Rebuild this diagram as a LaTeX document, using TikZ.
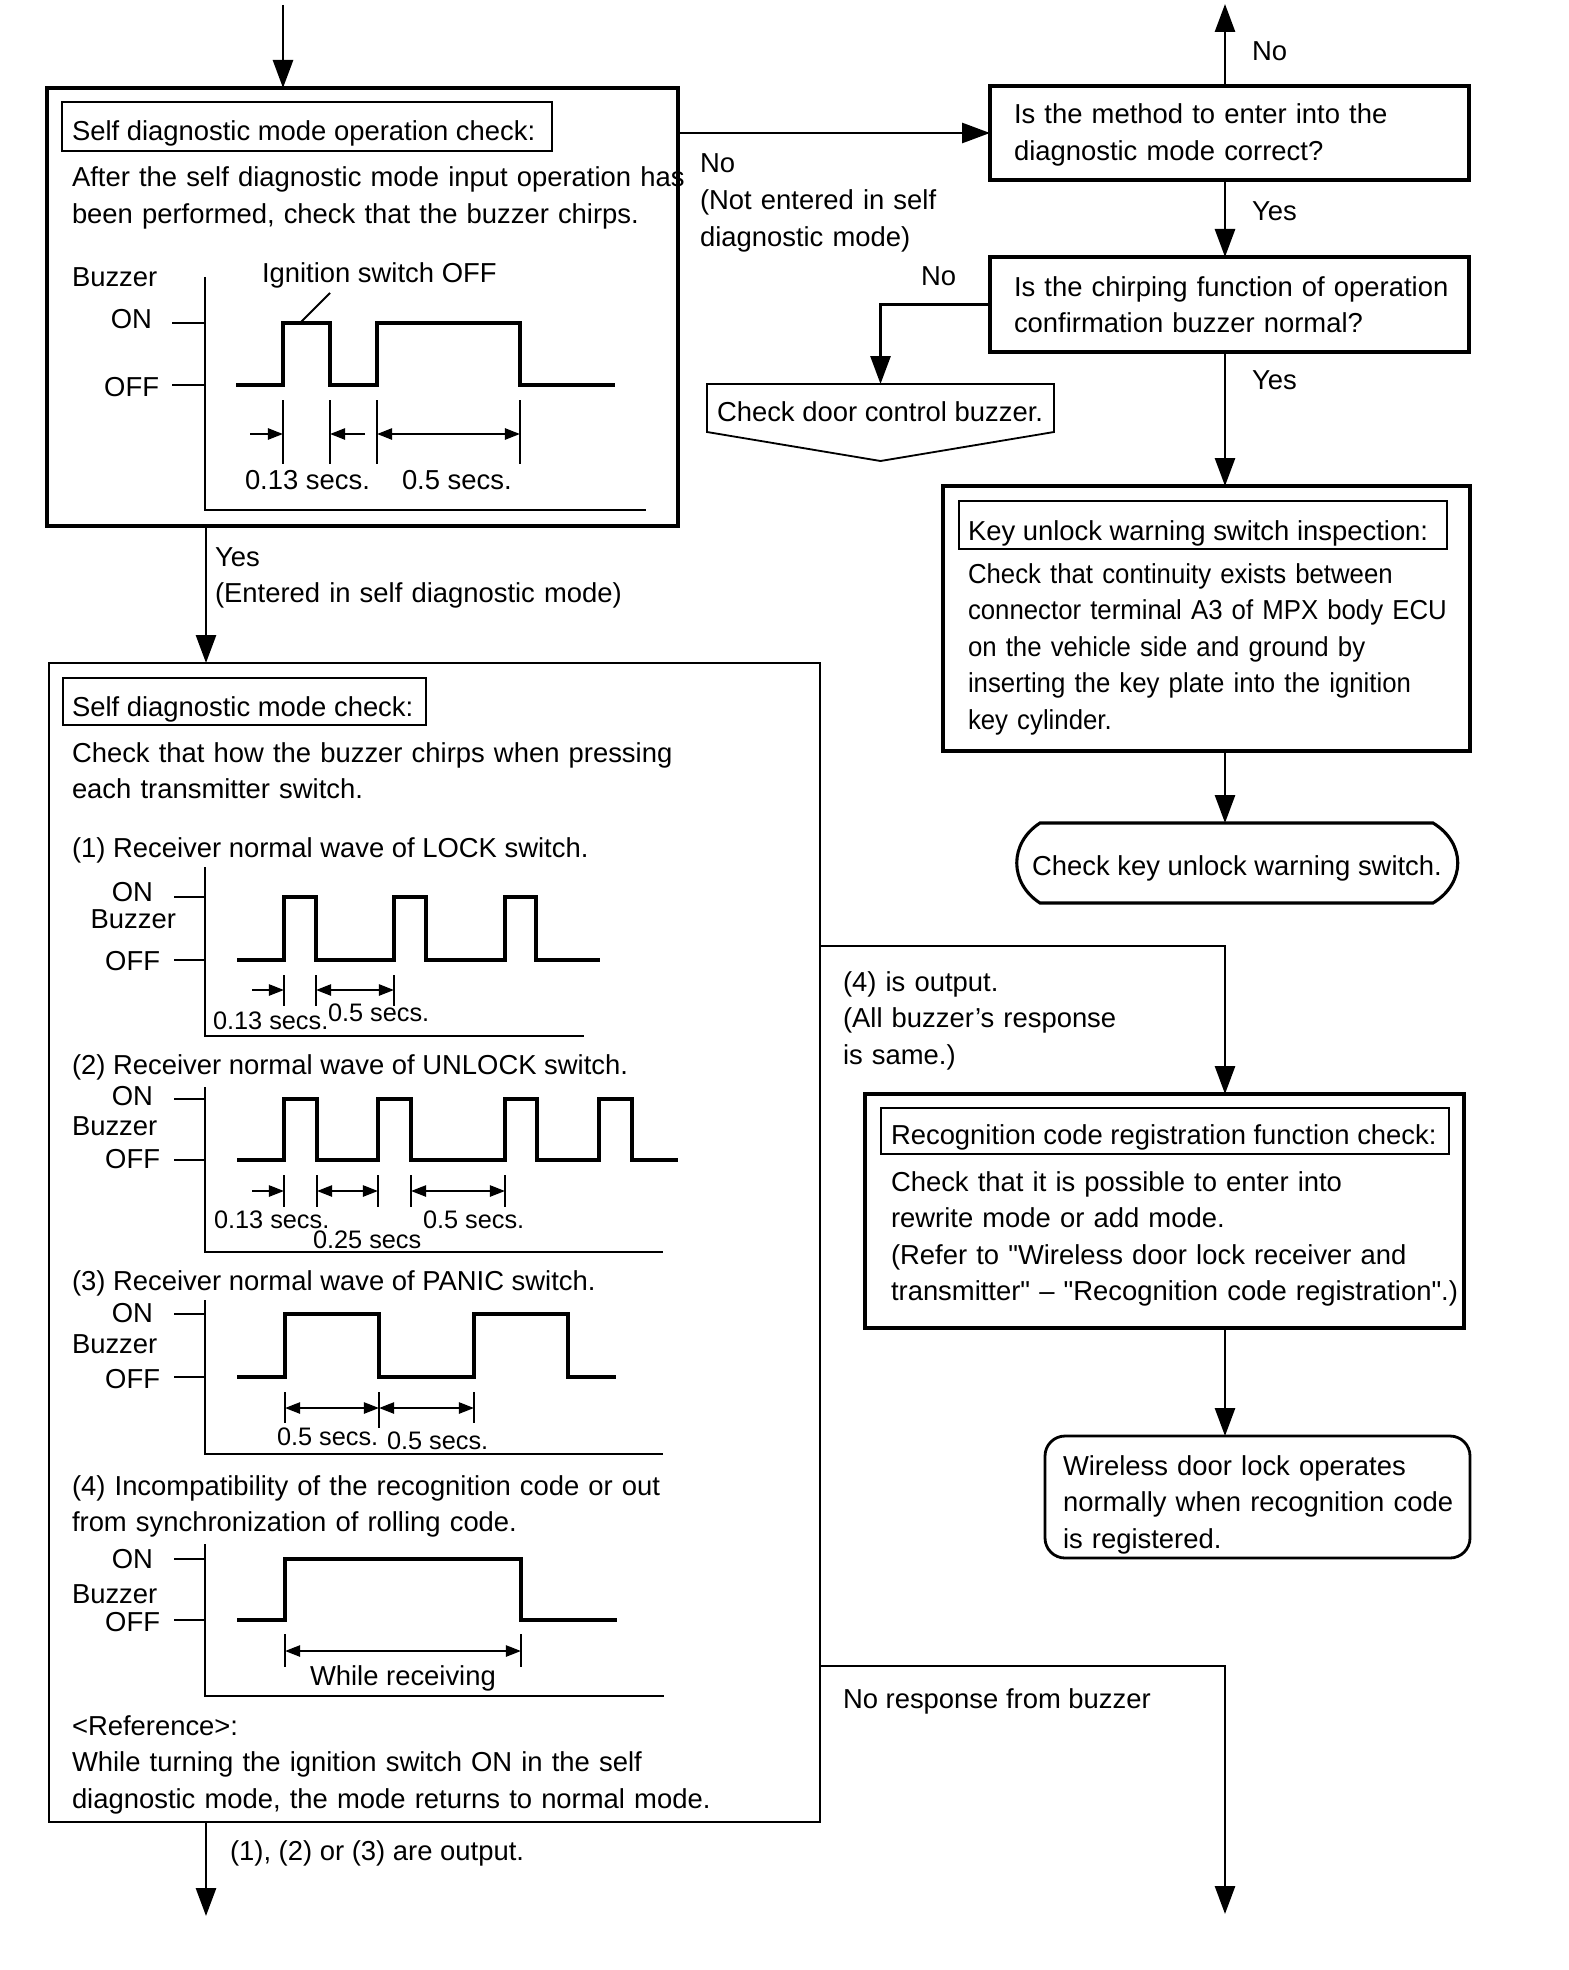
\documentclass[tikz,border=0pt]{standalone}
\usepackage{fontspec}
\setmainfont{Liberation Sans}[Ligatures=TeXOff]
\newfontfamily\condfont{Liberation Sans}[Ligatures=TeXOff,FakeStretch=0.94]
\usetikzlibrary{arrows.meta,fit,calc}
\begin{document}
\begin{tikzpicture}[x=0.25mm,y=-0.25mm,
  every node/.style={inner sep=0pt, outer sep=0pt},
  txt/.style={font=\fontsize{19.5}{26}\selectfont, anchor=base west},
  txtr/.style={font=\fontsize{19.5}{26}\selectfont, anchor=base east},
  sml/.style={font=\fontsize{18}{22}\selectfont, anchor=base west},
  ml/.style={text width=#1, align=left},
  bigbox/.style={draw, line width=2.3pt},
  thinbox/.style={draw, line width=1.3pt},
  conn/.style={line width=2pt, -{Triangle[length=7mm,width=5mm]}},
  wave/.style={line width=2.2pt, line join=miter},
  axis/.style={line width=1.8pt},
  dim/.style={line width=1.6pt},
  dimr/.style={dim, -{Triangle[length=3.8mm,width=2.8mm]}},
  dimb/.style={dim, {Triangle[length=3.8mm,width=2.8mm]}-{Triangle[length=3.8mm,width=2.8mm]}},
]
\useasboundingbox (0,0) rectangle (1568,1970);

% ---------- Box 1 ----------
\node[bigbox, fit={(47,88) (678,526)}] (b1) {};
\node[thinbox, fit={(62,102) (552,151)}] (b1t) {};
\node[txt] (b1tt) at (72,141) {Self diagnostic mode operation check:};
\node[txt, ml=170mm] (b1x) at (72,187) {After the self diagnostic mode input operation has\\been performed, check that the buzzer chirps.};
\node[txt] (g0buz) at (72,287) {Buzzer};
\node[txtr] (g0on) at (152,328) {ON};
\node[txtr] (g0off) at (159,396) {OFF};
\node[txt] (g0ig) at (262,282) {Ignition switch OFF};
\draw[axis] (205,277) -- (205,510) -- (646,510);
\draw[axis] (172,323) -- (205,323) (172,385) -- (205,385);
\draw[line width=1.5pt] (330,293) -- (300,323);
\draw[wave] (236,385) -| (283,323) -| (330,385) -| (377,323) -| (520,385) -- (615,385);
\draw[dim] (283,400) -- (283,464) (330,400) -- (330,464) (377,400) -- (377,464) (520,400) -- (520,464);
\draw[dimr] (250,434) -- (283,434);
\draw[dimr] (365,434) -- (330,434);
\draw[dimb] (377,434) -- (520,434);
\node[txt] (g0l1) at (245,489) {0.13 secs.};
\node[txt] (g0l2) at (402,489) {0.5 secs.};

% ---------- right column ----------
\node[bigbox, fit={(990,86) (1469,180)}] (d1) {};
\node[txt, ml=120mm] (d1x) at (1014,124) {Is the method to enter into the\\diagnostic mode correct?};
\node[bigbox, fit={(990,257) (1469,352)}] (d2) {};
\node[txt, ml=120mm] (d2x) at (1014,296) {Is the chirping function of operation\\confirmation buzzer normal?};

\node[fit={(707,384) (1054,432)}] (cdb) {};
\draw[line width=1.3pt] (cdb.north west) -- (cdb.north east) -- (cdb.south east) -- ($(cdb.south)+(0,29)$) -- (cdb.south west) -- cycle;
\node[txt] (cdbx) at (717,421) {Check door control buzzer.};

\node[bigbox, fit={(943,486) (1470,751)}] (kb) {};
\node[thinbox, fit={(959,501) (1447,549)}] (kbt) {};
\node[txt] (kbtt) at (968,540) {Key unlock warning switch inspection:};
\node[txt, ml=130mm, font=\condfont\fontsize{19.5}{26}\selectfont] (kbx) at (968,583) {Check that continuity exists between\\connector terminal A3 of MPX body ECU\\on the vehicle side and ground by\\inserting the key plate into the ignition\\key cylinder.};

\node[fit={(1040,823) (1433,903)}] (ckw) {};
\draw[line width=2.2pt] (ckw.north west) -- (ckw.north east) .. controls +(33,20) and +(33,-20) .. (ckw.south east) -- (ckw.south west) .. controls +(-31,-20) and +(-31,20) .. (ckw.north west) -- cycle;
\node[txt] (ckwx) at (1032,875) {Check key unlock warning switch.};

\node[bigbox, fit={(865,1094) (1464,1328)}] (rb) {};
\node[thinbox, fit={(881,1108) (1449,1154)}] (rbt) {};
\node[txt] (rbtt) at (891,1144) {Recognition code registration function check:};
\node[txt, ml=150mm] (rbx) at (891,1191) {Check that it is possible to enter into\\rewrite mode or add mode.\\(Refer to "Wireless door lock receiver and\\transmitter" – "Recognition code registration".)};

\node[draw, line width=2pt, rounded corners=5mm, fit={(1045,1436) (1470,1558)}] (wdl) {};
\node[txt, ml=110mm] (wdlx) at (1063,1475) {Wireless door lock operates\\normally when recognition code\\is registered.};

% ---------- Big box ----------
\node[draw, line width=1.3pt, fit={(49,663) (820,1822)}] (bb) {};
\node[thinbox, fit={(63,678) (426,725)}] (bbt) {};
\node[txt] (bbtt) at (72,716) {Self diagnostic mode check:};
\node[txt, ml=190mm] (bbx) at (72,762) {Check that how the buzzer chirps when pressing\\each transmitter switch.};

% (1) LOCK
\node[txt] (h1) at (72,857) {(1) Receiver normal wave of LOCK switch.};
\node[txtr] (g1on) at (153,901) {ON};
\node[txtr] (g1buz) at (176,928) {Buzzer};
\node[txtr] (g1off) at (160,970) {OFF};
\draw[axis] (205,867) -- (205,1036) -- (584,1036);
\draw[axis] (174,897) -- (205,897) (174,960) -- (205,960);
\draw[wave] (237,960) -| (284,897) -| (316,960) -| (394,897) -| (426,960) -| (505,897) -| (536,960) -- (600,960);
\draw[dim] (284,975) -- (284,1006) (316,975) -- (316,1006) (394,975) -- (394,1006);
\draw[dimr] (252,990) -- (284,990);
\draw[dimb] (316,990) -- (394,990);
\node[sml] (g1l1) at (213,1029) {0.13 secs.};
\node[sml] (g1l2) at (328,1021) {0.5 secs.};

% (2) UNLOCK
\node[txt] (h2) at (72,1074) {(2) Receiver normal wave of UNLOCK switch.};
\node[txtr] (g2on) at (153,1105) {ON};
\node[txt] (g2buz) at (72,1135) {Buzzer};
\node[txtr] (g2off) at (160,1168) {OFF};
\draw[axis] (205,1087) -- (205,1252) -- (663,1252);
\draw[axis] (174,1099) -- (205,1099) (174,1160) -- (205,1160);
\draw[wave] (237,1160) -| (284,1099) -| (317,1160) -| (378,1099) -| (411,1160) -| (505,1099) -| (537,1160) -| (599,1099) -| (632,1160) -- (678,1160);
\draw[dim] (284,1175) -- (284,1207) (317,1175) -- (317,1207) (378,1175) -- (378,1207) (411,1175) -- (411,1207) (505,1175) -- (505,1207);
\draw[dimr] (252,1191) -- (284,1191);
\draw[dimb] (317,1191) -- (378,1191);
\draw[dimb] (411,1191) -- (505,1191);
\node[sml] (g2l1) at (214,1228) {0.13 secs.};
\node[sml] (g2l2) at (313,1248) {0.25 secs};
\node[sml] (g2l3) at (423,1228) {0.5 secs.};

% (3) PANIC
\node[txt] (h3) at (72,1290) {(3) Receiver normal wave of PANIC switch.};
\node[txtr] (g3on) at (153,1322) {ON};
\node[txt] (g3buz) at (72,1353) {Buzzer};
\node[txtr] (g3off) at (160,1388) {OFF};
\draw[axis] (205,1300) -- (205,1454) -- (663,1454);
\draw[axis] (174,1314) -- (205,1314) (174,1377) -- (205,1377);
\draw[wave] (237,1377) -| (285,1314) -| (379,1377) -| (474,1314) -| (568,1377) -- (616,1377);
\draw[dim] (285,1392) -- (285,1423) (379,1392) -- (379,1428) (474,1392) -- (474,1423);
\draw[dimb] (285,1408) -- (379,1408);
\draw[dimb] (379,1408) -- (474,1408);
\node[sml] (g3l1) at (277,1445) {0.5 secs.};
\node[sml] (g3l2) at (387,1449) {0.5 secs.};

% (4)
\node[txt, ml=190mm] (h4) at (72,1495) {(4) Incompatibility of the recognition code or out\\from synchronization of rolling code.};
\node[txtr] (g4on) at (153,1568) {ON};
\node[txt] (g4buz) at (72,1603) {Buzzer};
\node[txtr] (g4off) at (160,1631) {OFF};
\draw[axis] (205,1544) -- (205,1696) -- (664,1696);
\draw[axis] (174,1559) -- (205,1559) (174,1620) -- (205,1620);
\draw[wave] (237,1620) -| (285,1559) -| (521,1620) -- (617,1620);
\draw[dim] (285,1634) -- (285,1667) (521,1634) -- (521,1667);
\draw[dimb] (285,1651) -- (521,1651);
\node[txt] (g4l1) at (310,1685) {While receiving};

\node[txt, ml=190mm] (ref) at (72,1735) {<Reference>:\\While turning the ignition switch ON in the self\\diagnostic mode, the mode returns to normal mode.};

% ---------- connectors ----------
\coordinate (start) at (283,5);
\coordinate (rx) at (1225,0);
\coordinate (topNo) at (1225,4);
\coordinate (yx) at (206,0);
\coordinate (j4) at (1225,946);
\coordinate (jn) at (1225,1666);
\coordinate (endNR) at (1225,1914);
\coordinate (endOut) at (206,1916);

\draw[conn] (start) -- (start |- b1.north);
\draw[conn] (b1.east |- d1.west) -- (d1.west);
\draw[conn] (d1.north -| rx) -- (topNo);
\draw[conn] (d1.south -| rx) -- (d2.north -| rx);
\draw[conn] (d2.west) -| (cdb.north);
\draw[conn] (d2.south -| rx) -- (kb.north -| rx);
\draw[conn] (kb.south -| rx) -- (ckw.north -| rx);
\draw[conn] (b1.south -| yx) -- (bb.north -| yx);
\draw[conn] (bb.east |- j4) -- (j4) -- (rb.north -| j4);
\draw[conn] (rb.south -| rx) -- (wdl.north -| rx);
\draw[conn] (bb.east |- jn) -- (jn) -- (endNR);
\draw[conn] (bb.south -| endOut) -- (endOut);

% ---------- connector labels ----------
\node[txt] (lNo1) at (1252,61) {No};
\node[txt] (lYes1) at (1252,221) {Yes};
\node[txt] (lYes2) at (1252,389) {Yes};
\node[txt] (lNo2) at (921,286) {No};
\node[txt, ml=70mm] (lNo3) at (700,173) {No\\(Not entered in self\\diagnostic mode)};
\node[txt, ml=120mm] (lYes3) at (215,566) {Yes\\(Entered in self diagnostic mode)};
\node[txt, ml=80mm] (l4) at (843,991) {(4) is output.\\(All buzzer’s response\\is same.)};
\node[txt] (lnr) at (843,1708) {No response from buzzer};
\node[txt] (l123) at (230,1860) {(1), (2) or (3) are output.};
\end{tikzpicture}
\end{document}
